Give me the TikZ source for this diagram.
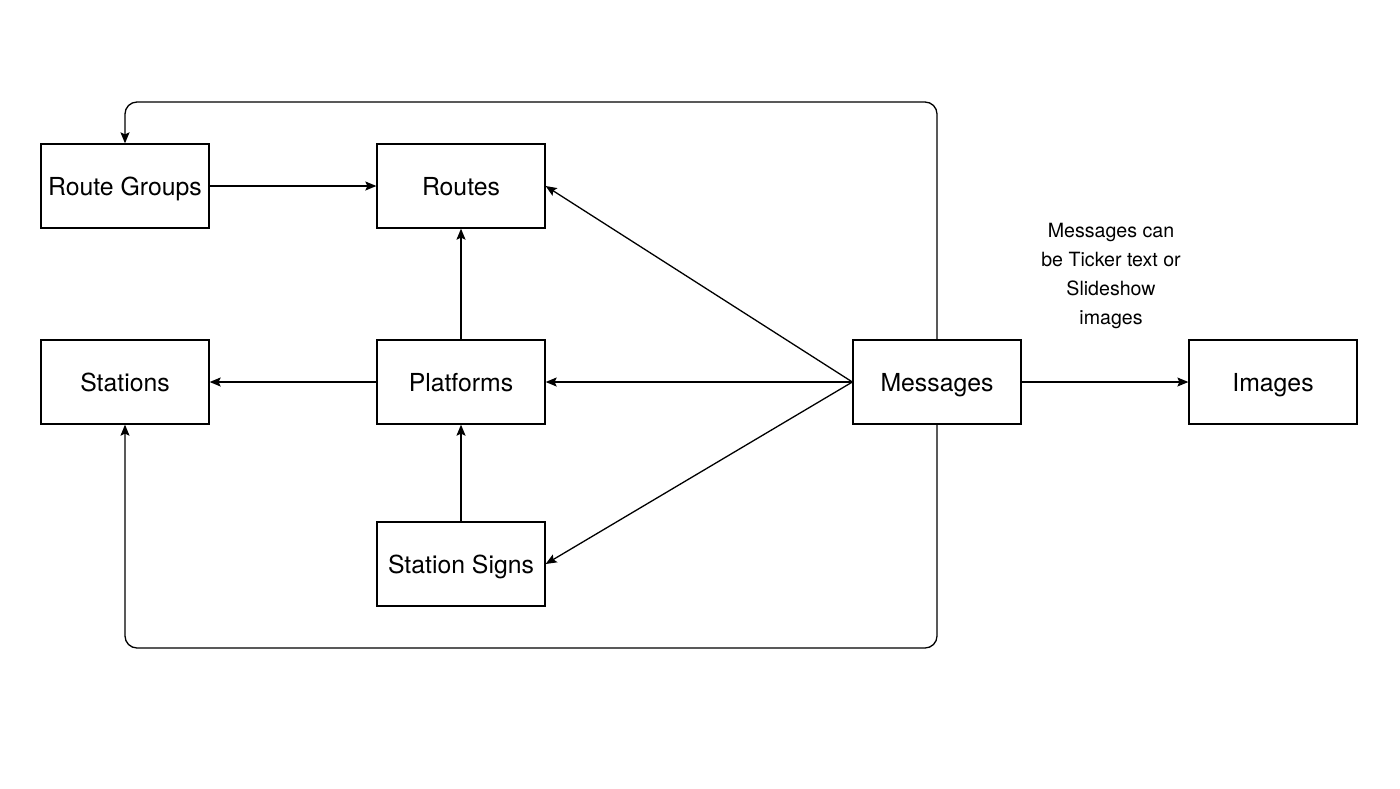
\documentclass[tikz,border=0pt]{standalone}
\usepackage{fontspec}
\setmainfont{TeX Gyre Heros}
\usetikzlibrary{arrows.meta}
\begin{document}
\begin{tikzpicture}[x=0.5pt,y=-0.5pt,line width=0.65pt,
        box/.style={draw,minimum width=84pt,minimum height=42pt,inner sep=0pt,text height=0.98em,text depth=0pt,font=\fontsize{12.4}{14}\selectfont},
        arr/.style={-{Stealth[length=5.5pt,width=4.5pt,inset=1pt]}}]
        \useasboundingbox (0,0) rectangle (1400,788);
        \node[box] (rgroups) at (125,186) {Route Groups};
        \node[box] (routes) at (461,186) {Routes};
        \node[box] (stations) at (125,382) {Stations};
        \node[box] (platforms) at (461,382) {Platforms};
        \node[box] (signs) at (461,564) {Station Signs};
        \node[box] (msgs) at (937,382) {Messages};
        \node[box] (images) at (1273,382) {Images};
        \node[align=center,font=\fontsize{9.8}{14.5}\selectfont] (note) at (1111,276) {Messages can\\be Ticker text or\\Slideshow\\images};
        \coordinate (looptop) at (125,102);
        \coordinate (loopbot) at (125,648);
        \draw[arr] (rgroups) -- (routes);
        \draw[arr] (platforms) -- (routes);
        \draw[arr] (platforms) -- (stations);
        \draw[arr] (signs) -- (platforms);
        \draw[arr] (msgs.west) -- (routes.east);
        \draw[arr] (msgs.west) -- (platforms.east);
        \draw[arr] (msgs.west) -- (signs.east);
        \draw[arr] (msgs) -- (images);
        \draw[arr,rounded corners=6pt] (msgs.north) |- (looptop) -- (rgroups.north);
        \draw[arr,rounded corners=6pt] (msgs.south) |- (loopbot) -- (stations.south);
    \end{tikzpicture}
\end{document}
